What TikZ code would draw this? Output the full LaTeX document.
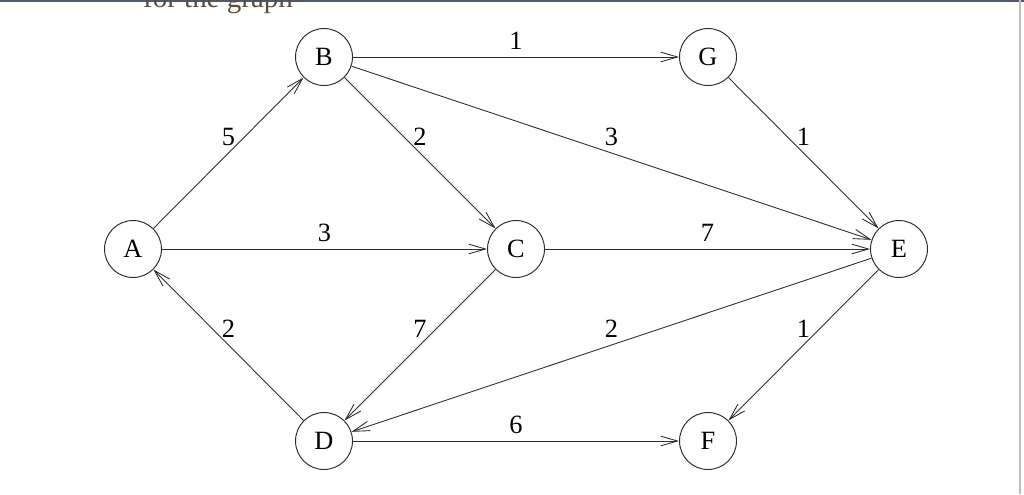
\documentclass[tikz,border=0pt]{standalone}
\usepackage{fontspec}
\setmainfont{Liberation Serif}
\usepackage{tikz}
\usetikzlibrary{arrows.meta}
\definecolor{edgegray}{RGB}{45,45,45}
\definecolor{topbar}{RGB}{78,92,106}
\definecolor{captext}{RGB}{90,78,66}

\begin{document}
\begin{tikzpicture}[x=0.02cm, y=-0.02cm, >={Straight Barb[length=9.5pt, width=5.5pt]},
    vert/.style={draw=edgegray, circle, minimum size=1.14cm, inner sep=0pt, line width=0.55pt, font=\fontsize{15}{18}\selectfont},
    edge/.style={->, draw=edgegray, line width=0.5pt},
    lbl/.style={midway, above=0.14cm, inner sep=0pt, font=\fontsize{15}{18}\selectfont}]
    \path[use as bounding box] (0,0) rectangle (1024,494);
    \clip (0,0) rectangle (1024,494);

    % page bits
    \fill[topbar] (0,0) rectangle (1024,2);
    \draw[black!25, line width=0.6pt] (1020,0) -- (1020,494);
    \node[anchor=base, inner sep=0pt, text=captext, font=\fontsize{16.5}{20}\selectfont] (cap) at (218,7.5) {for the graph};

    % Vertices
    \node[vert] (A) at (133,249) {A};
    \node[vert] (B) at (324,57) {B};
    \node[vert] (G) at (708,57) {G};
    \node[vert] (C) at (516,249) {C};
    \node[vert] (E) at (899,249) {E};
    \node[vert] (D) at (324,441) {D};
    \node[vert] (F) at (708,441) {F};

    % Edges
    \draw[edge] (A) -- (B) node[lbl] {5};
    \draw[edge] (B) -- (G) node[lbl] {1};
    \draw[edge] (B) -- (C) node[lbl] {2};
    \draw[edge] (B) -- (E) node[lbl] {3};
    \draw[edge] (G) -- (E) node[lbl] {1};
    \draw[edge] (A) -- (C) node[lbl] {3};
    \draw[edge] (C) -- (E) node[lbl] {7};
    \draw[edge] (E) -- (D) node[lbl] {2};
    \draw[edge] (C) -- (D) node[lbl] {7};
    \draw[edge] (D) -- (A) node[lbl] {2};
    \draw[edge] (D) -- (F) node[lbl] {6};
    \draw[edge] (E) -- (F) node[lbl] {1};
  \end{tikzpicture}
\end{document}
